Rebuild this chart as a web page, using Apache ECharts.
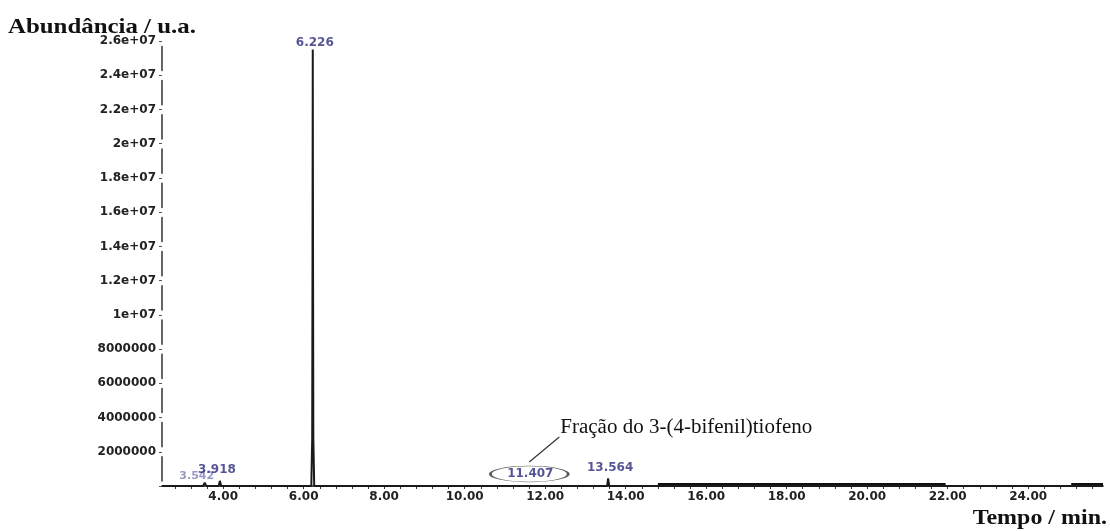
<!DOCTYPE html>
<html>
<head>
<meta charset="utf-8">
<script src="https://cdn.jsdelivr.net/npm/echarts@6/dist/echarts.min.js"></script>
<style>
html,body{margin:0;padding:0;background:#fff;}
#chart{width:1110px;height:531px;}
</style>
</head>
<body>
<div id="chart"></div>
<script>
// ---- data ----
const times = [2.48, 3.50, 3.542, 3.58, 3.89, 3.918, 3.95, 6.19, 6.212, 6.22, 6.226, 6.232, 6.24, 6.262, 11.38, 11.407, 11.43, 13.54, 13.564, 13.59, 25.86];
const abundance = [0, 0, 200000, 0, 0, 300000, 0, 0, 2800000, 14000000, 25500000, 14000000, 2800000, 0, 0, 100000, 0, 0, 450000, 0, 0];

// raised baseline (column bleed) segments
const bleedTimes = [14.80, 21.95, null, 25.07, 25.86];
const bleedLevel = [90000, 90000, null, 90000, 90000];

const peakTimes = [3.542, 3.918, 6.226, 11.407, 13.564];
const peakHeights = [200000, 300000, 25500000, 100000, 450000];
const peakLabels = ['3.542', '3.918', '6.226', '11.407', '13.564'];

const xTickLabels = [4, 6, 8, 10, 12, 14, 16, 18, 20, 22, 24];
const yTickValues = [2000000, 4000000, 6000000, 8000000, 10000000, 12000000, 14000000, 16000000, 18000000, 20000000, 22000000, 24000000, 26000000];
const yTickLabels = ['2000000', '4000000', '6000000', '8000000', '1e+07', '1.2e+07', '1.4e+07', '1.6e+07', '1.8e+07', '2e+07', '2.2e+07', '2.4e+07', '2.6e+07'];

const annotationText = 'Fração do 3-(4-bifenil)tiofeno';
const yTitle = 'Abundância / u.a.';
const xTitle = 'Tempo / min.';

// ---- styles ----
const labelOffsets = [[-8, -6], [-3, -11], [2, -7], [9, -10], [2, -10]];
const labelColors = ['#8080b8', '#2a2a7a', '#2a2a7a', '#2a2a7a', '#2a2a7a'];
const labelSizes = [11, 12, 12, 12, 12];
const xMinorTicks = [];
for (let k = 7; k <= 64; k++) xMinorTicks.push(+(k * 0.4).toFixed(1));

const chart = echarts.init(document.getElementById('chart'), null, {renderer: 'canvas'});

const option = {
  animation: false,
  backgroundColor: '#fff',
  grid: {left: 162, right: 7, top: 41, bottom: 45, containLabel: false},
  xAxis: {
    type: 'value', min: 2.48, max: 25.86,
    axisLine: {show: true, lineStyle: {color: '#222', width: 1.7}},
    axisTick: {show: true, customValues: xMinorTicks, length: 3, lineStyle: {color: '#333'}},
    axisLabel: {
      customValues: xTickLabels, margin: 5,
      formatter: v => v.toFixed(2),
      fontFamily: 'DejaVu Sans', fontSize: 12, fontWeight: 'bold', color: '#222'
    },
    splitLine: {show: false}
  },
  yAxis: {
    type: 'value', min: 0, max: 26000000, interval: 2000000,
    axisLine: {show: true, lineStyle: {color: '#333', width: 1.5, type: [24.2, 10], dashOffset: 29.2}},
    axisTick: {show: true, length: 3, lineStyle: {color: '#555'}},
    axisLabel: {
      margin: 6,
      formatter: v => { const i = yTickValues.indexOf(v); return i >= 0 ? yTickLabels[i] : ''; },
      fontFamily: 'DejaVu Sans', fontSize: 12, fontWeight: 'bold', color: '#222'
    },
    splitLine: {show: false}
  },
  series: [
    {
      name: 'chromatogram', type: 'line', symbol: 'none', smooth: false,
      data: times.map((t, i) => [t, abundance[i]]),
      lineStyle: {color: '#1a1a1a', width: 2}, z: 5
    },
    {
      name: 'baseline', type: 'line', symbol: 'none', smooth: false, connectNulls: false,
      data: bleedTimes.map((t, i) => t === null ? '-' : [t, bleedLevel[i]]),
      lineStyle: {color: '#111', width: 3}, z: 4
    },
    {
      name: 'peaks', type: 'scatter', symbolSize: 0,
      data: peakTimes.map((t, i) => ({
        value: [t, peakHeights[i]],
        label: {offset: labelOffsets[i], color: labelColors[i], fontSize: labelSizes[i]}
      })),
      label: {
        show: true, position: 'inside',
        formatter: p => peakLabels[p.dataIndex],
        fontFamily: 'DejaVu Sans', fontSize: 12, fontWeight: 'bold', color: '#2a2a7a'
      },
      z: 6
    },
    {
      name: 'circle', type: 'scatter', symbol: 'circle',
      symbolSize: [78, 16], symbolOffset: [8, -12],
      data: [[11.407, 0]],
      itemStyle: {color: 'rgba(0,0,0,0)', borderColor: '#333', borderWidth: 1.3},
      z: 7, silent: true
    }
  ]
};
chart.setOption(option);

const p = chart.convertToPixel({gridIndex: 0}, [11.407, 0]);
chart.setOption({
  graphic: [
    {type: 'line', shape: {x1: p[0] + 8, y1: p[1] - 24, x2: p[0] + 38, y2: p[1] - 49},
     style: {stroke: '#333', lineWidth: 1.2}},
    {type: 'text', x: p[0] + 39, y: p[1] - 58, scaleX: 1.05,
     style: {text: annotationText, font: '20px "Liberation Serif"', fill: '#111', textAlign: 'left', textVerticalAlign: 'middle'}},
    {type: 'text', x: 8, y: 27, scaleX: 1.13,
     style: {text: yTitle, font: 'bold 22px "Liberation Serif"', fill: '#111', textAlign: 'left', textVerticalAlign: 'middle'}},
    {type: 'text', x: 1107, y: 518, scaleX: 1.09,
     style: {text: xTitle, font: 'bold 22px "Liberation Serif"', fill: '#111', textAlign: 'right', textVerticalAlign: 'middle'}}
  ]
});
</script>
</body>
</html>
